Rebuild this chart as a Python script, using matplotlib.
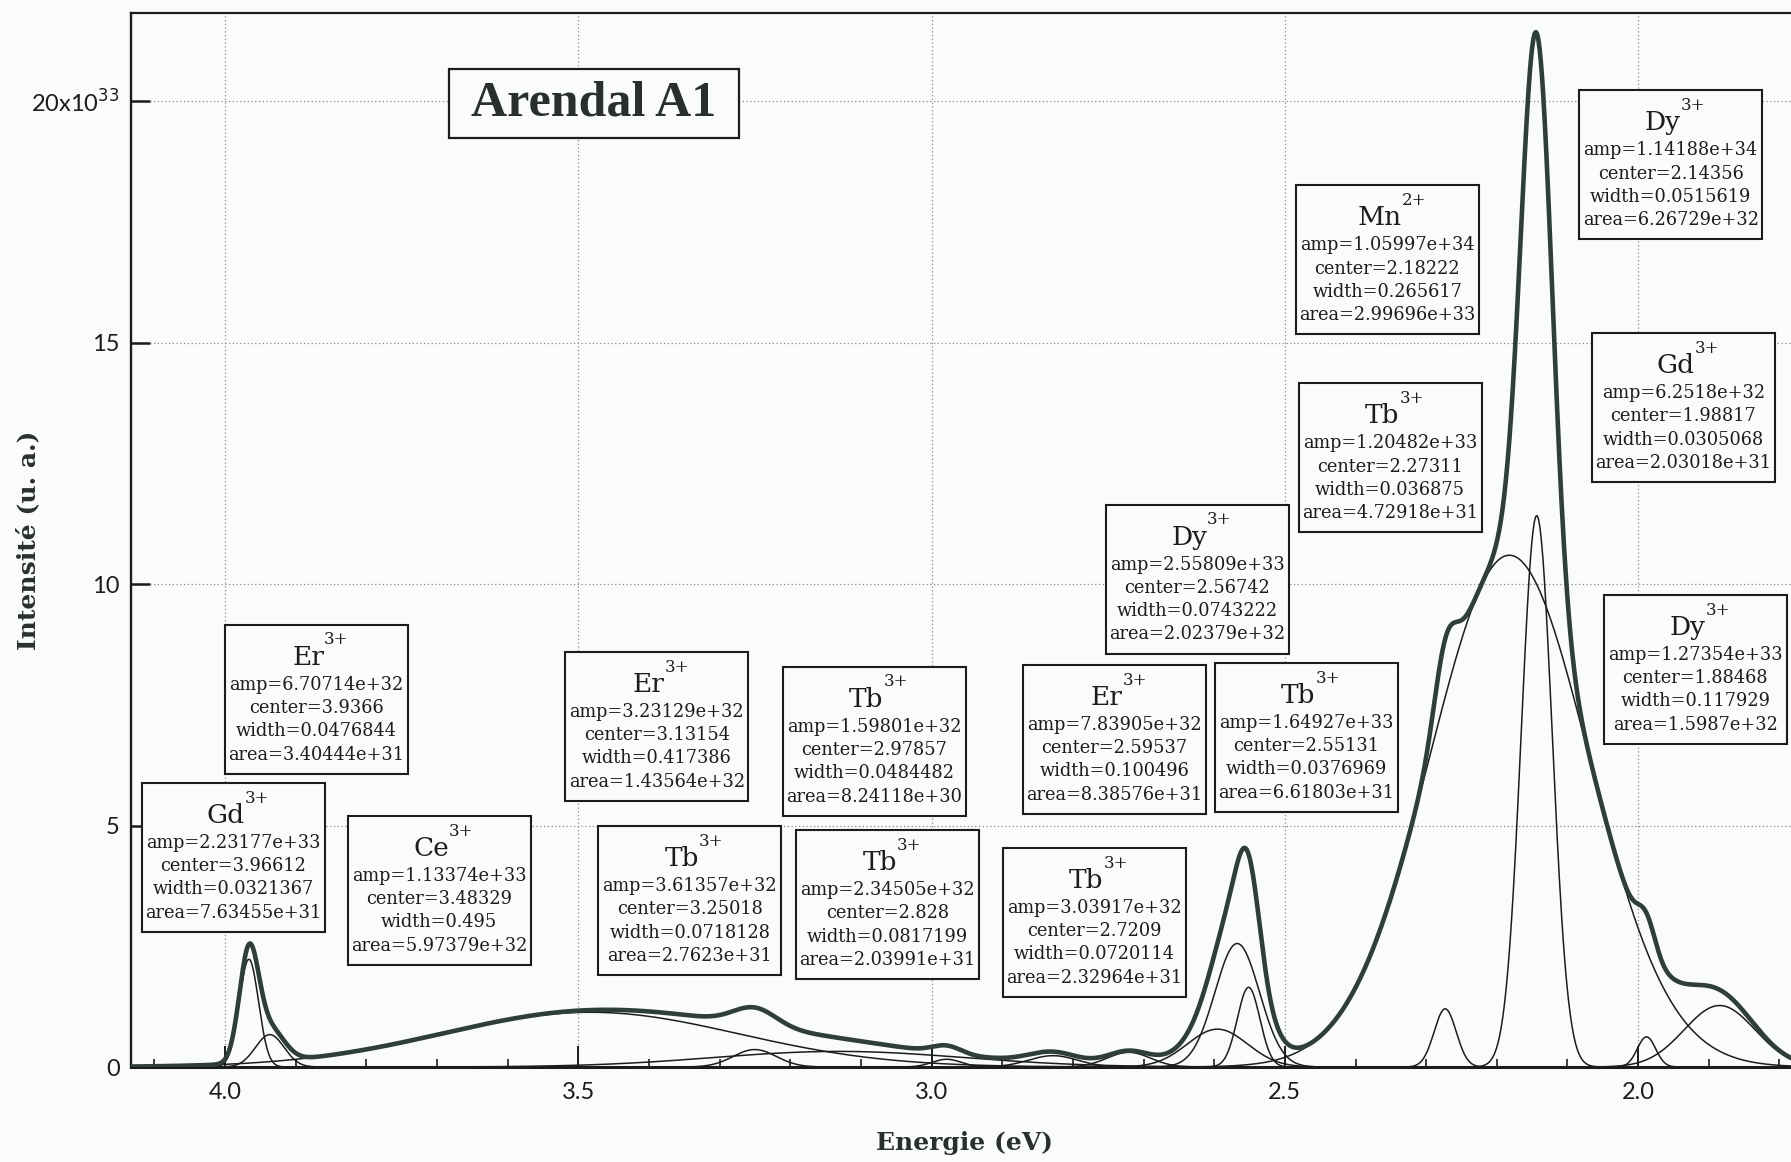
import numpy as np
import matplotlib.pyplot as plt
from matplotlib.patches import Rectangle
from matplotlib.ticker import FixedLocator, MultipleLocator, FuncFormatter

# Gaussian components of the fit (width = FWHM, amp in a.u.)
IONS = ["Er", "Gd", "Ce", "Er", "Tb", "Tb", "Tb", "Tb",
        "Er", "Tb", "Dy", "Tb", "Mn", "Dy", "Gd", "Dy"]
CHARGES = ["3+"] * 12 + ["2+", "3+", "3+", "3+"]
AMPS = [6.70714e32, 2.23177e33, 1.13374e33, 3.23129e32, 3.61357e32, 1.59801e32,
        2.34505e32, 3.03917e32, 7.83905e32, 1.64927e33, 2.55809e33, 1.20482e33,
        1.05997e34, 1.14188e34, 6.2518e32, 1.27354e33]
CENTERS = [3.9366, 3.96612, 3.48329, 3.13154, 3.25018, 2.97857, 2.828, 2.7209,
           2.59537, 2.55131, 2.56742, 2.27311, 2.18222, 2.14356, 1.98817, 1.88468]
WIDTHS = [0.0476844, 0.0321367, 0.495, 0.417386, 0.0718128, 0.0484482,
          0.0817199, 0.0720114, 0.100496, 0.0376969, 0.0743222, 0.036875,
          0.265617, 0.0515619, 0.0305068, 0.117929]
AREAS = [3.40444e31, 7.63455e31, 5.97379e32, 1.43564e32, 2.7623e31, 8.24118e30,
         2.03991e31, 2.32964e31, 8.38576e31, 6.61803e31, 2.02379e32, 4.72918e31,
         2.99696e33, 6.26729e32, 2.03018e31, 1.5987e32]

# label boxes: top-centre anchor (eV, 1e33 a.u.)
BOX_X = [3.871, 3.988, 3.697, 3.389, 3.342, 3.081, 3.062, 2.770,
         2.741, 2.470, 2.624, 2.351, 2.355, 1.954, 1.936, 1.919]
BOX_TOP = [9.16, 5.886, 5.202, 8.60, 4.99, 8.29, 4.91, 4.54,
           8.33, 8.37, 11.65, 14.16, 18.26, 20.23, 15.20, 9.78]

SCALE = 1e33
X_LEFT, X_RIGHT = 4.133, 1.778
Y_TOP = 21.83
YTICKS = [0, 5, 10, 15, 20]
XTICKS = [4.0, 3.5, 3.0, 2.5, 2.0]

BG = "#f9fbfc"
INK = "#1c1c1c"
DATA_COLOR = "#2f3e3b"

DPI = 100
W, H = 1791, 1162
AX_L, AX_R, AX_T, AX_B = 131, 1795, 13, 1067   # axes box in pixels


def gauss(x, amp, center, fwhm):
    return amp * np.exp(-4 * np.log(2) * ((x - center) / fwhm) ** 2)


fig = plt.figure(figsize=(W / DPI, H / DPI), dpi=DPI, facecolor=BG)
ax = fig.add_axes([AX_L / W, (H - AX_B) / H, (AX_R - AX_L) / W, (AX_B - AX_T) / H])
ax.set_facecolor(BG)

x = np.linspace(4.15, 1.76, 3000)
total = np.zeros_like(x)
for a, c, w in zip(AMPS, CENTERS, WIDTHS):
    y = gauss(x, a, c, w) / SCALE
    total += y
    ax.plot(x, y, color=INK, lw=1.1, zorder=3)
ax.plot(x, total, color=DATA_COLOR, lw=3.3, zorder=4, solid_joinstyle="round")

ax.set_xlim(X_LEFT, X_RIGHT)
ax.set_ylim(0, Y_TOP)

# axes styling
for side, lw in (("left", 1.7), ("bottom", 2.2), ("top", 1.6)):
    ax.spines[side].set_linewidth(lw)
    ax.spines[side].set_color(INK)
ax.spines["right"].set_visible(False)

ax.xaxis.set_major_locator(FixedLocator(XTICKS))
ax.xaxis.set_minor_locator(MultipleLocator(0.1))
ax.yaxis.set_major_locator(FixedLocator(YTICKS))
ax.xaxis.set_major_formatter(FuncFormatter(lambda v, p: f"{v:.1f}"))
ax.yaxis.set_major_formatter(FuncFormatter(
    lambda v, p: "20x10$^{33}$" if v == 20 else f"{v:.0f}"))
ax.tick_params(axis="x", which="major", direction="in", length=15, width=1.4,
               pad=11, labelsize=17, colors=INK)
ax.tick_params(axis="x", which="minor", direction="in", length=6, width=1.2,
               colors=INK)
ax.tick_params(axis="y", which="major", direction="in", length=14, width=1.8,
               pad=8, labelsize=17, colors=INK)
for lab in ax.get_xticklabels() + ax.get_yticklabels():
    lab.set_fontfamily("Lato")

ax.grid(True, which="major", color="#8a8a8a", lw=0.9, linestyle=(0, (1, 2)))
ax.set_axisbelow(True)

# pixel -> data conversion for the fixed-size label boxes
sx = (AX_R - AX_L) / (X_LEFT - X_RIGHT)
sy = (AX_B - AX_T) / Y_TOP
BOX_W, BOX_H = 183, 149

serif = "DejaVu Serif"
for i in range(len(IONS)):
    xc, yt = BOX_X[i], BOX_TOP[i]
    hw = BOX_W / 2 / sx
    ax.add_patch(Rectangle((xc - hw, yt - BOX_H / sy), 2 * hw, BOX_H / sy,
                           facecolor=BG, edgecolor=INK, lw=1.5, zorder=2))
    name = ax.text(xc + 8 / sx, yt - 40 / sy, IONS[i], ha="center",
                   va="baseline", fontsize=19, family=serif, color=INK, zorder=5)
    ax.annotate(CHARGES[i], xy=(1.0, 0.85), xycoords=name, ha="left",
                va="bottom", fontsize=12, family=serif, color=INK, zorder=5)
    lines = [f"amp={AMPS[i]:g}", f"center={CENTERS[i]:g}",
             f"width={WIDTHS[i]:g}", f"area={AREAS[i]:g}"]
    for k, s in enumerate(lines):
        ax.text(xc, yt - (65 + 23.3 * k) / sy, s, ha="center", va="baseline",
                fontsize=12.8, family=serif, color=INK, zorder=5)

# sample name
tx, ty = 3.478, 19.96
ax.add_patch(Rectangle((tx - 145 / sx, ty - 34.5 / sy), 290 / sx, 69 / sy,
                       facecolor=BG, edgecolor=INK, lw=1.6, zorder=2))
ax.text(tx, ty, "Arendal A1", ha="center", va="center", fontsize=36,
        family="Liberation Serif", fontweight="bold", color="#2a2f2e", zorder=5)

fig.text(965 / W, 1 - 1143 / H, "Energie (eV)", ha="center", va="center",
         fontsize=18, family=serif, fontweight="bold", color="#2a2f2e")
fig.text(28 / W, 1 - 540 / H, "Intensité (u. a.)", ha="center", va="center",
         rotation=90, fontsize=18, family=serif, fontweight="bold", color="#2a2f2e")

fig.savefig("out.png", dpi=DPI, facecolor=BG)
